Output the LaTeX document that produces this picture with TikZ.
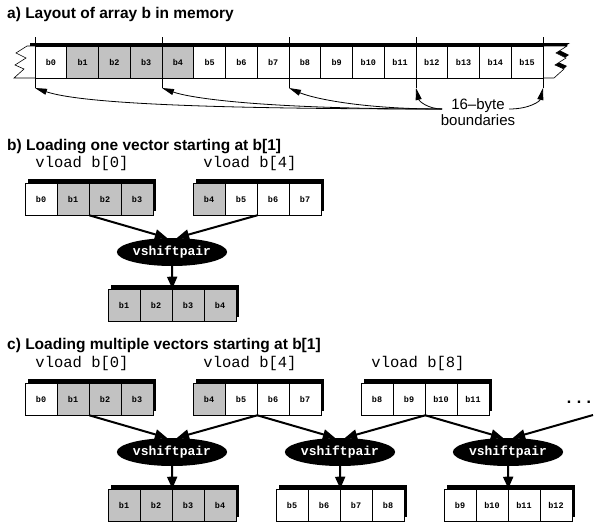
\documentclass[tikz,border=0pt]{standalone}
\usepackage{fontspec}
\newfontfamily\hv{Liberation Sans}
\newfontfamily\cour{Liberation Mono}
\usetikzlibrary{arrows.meta,shapes.geometric,backgrounds}
\definecolor{cellgray}{gray}{0.76}
\tikzset{
  cell/.style={draw, line width=.6pt, minimum width=31.75pt, minimum height=32pt, inner sep=0pt,
    font=\cour\bfseries\fontsize{8.5}{10}\selectfont},
  vcell/.style={cell, minimum width=32pt},
  title/.style={anchor=base west, inner sep=0pt, font=\hv\bfseries\fontsize{15.5}{18}\selectfont},
  vload/.style={anchor=base, inner sep=0pt, font=\cour\fontsize{15.5}{18}\selectfont},
  vsp/.style={ellipse, fill=black, text=white, minimum width=107pt, minimum height=28pt, inner sep=0pt,
    font=\cour\bfseries\fontsize{13}{15}\selectfont},
  feed/.style={line width=2pt, -{Triangle[length=12pt,width=10pt]}},
  bnd/.style={line width=.8pt, -{Triangle[length=12pt,width=6pt]}}
}
\begin{document}
\begin{tikzpicture}[x=1pt,y=-1pt]
    \useasboundingbox (0,0) rectangle (596,523);
    % a) memory layout
    \node[title] (ta) at (7,18) {a) Layout of array b in memory};
    \fill (30,43) -- (570,43) -- (559,50) -- (569,55) -- (558,62) -- (567,66) -- (557,75) -- (30,75) -- cycle;
    \draw[fill=white, line width=.6pt] (27,46) -- (567,46) -- (556,53) -- (566,58) -- (555,65) -- (564,69)
        -- (554,78) -- (14,78) -- (24,69) -- (15,65) -- (26,58) -- (16,53) -- cycle;
    \foreach \i in {0,...,15} {
        \ifnum\i>0 \ifnum\i<5 \def\fl{cellgray}\else\def\fl{white}\fi\else\def\fl{white}\fi
        \node[cell,fill=\fl] (a\i) at ({50.875+31.75*\i},62) {b\i};
    }
    \fill (30,43) rectangle (567,46);
    \foreach \k in {0,...,4} {
        \coordinate (bt\k) at ({35+127*\k},37);
        \coordinate (bd\k) at ({35+127*\k},88);
        \draw[line width=.8pt] (bt\k) -- (bd\k);
    }
    \node[align=center, inner sep=0pt, font=\hv\fontsize{15}{16}\selectfont] (lbl) at (478,112) {16–byte\\boundaries};
    \coordinate (lblL) at (442,109);
    \coordinate (lblR) at (509,109);
    \draw[bnd] (lblL) .. controls (200,109) and (80,103) .. (bd0);
    \draw[bnd] (lblL) .. controls (260,109) and (190,98) .. (bd1);
    \draw[bnd] (lblL) .. controls (360,109) and (312,98) .. (bd2);
    \draw[bnd] (lblL) .. controls (428,109) and (419,101) .. (bd3);
    \draw[bnd] (lblR) .. controls (530,109) and (540,101) .. (bd4);
    % b) and c) vectors
    \node[title] (tb) at (7,150) {b) Loading one vector starting at b[1]};
    \node[title] (tc) at (7,349) {c) Loading multiple vectors starting at b[1]};
    \foreach \nm/\xl/\yc/\cells in {
        sb1/25/199/{b0/white,b1/cellgray,b2/cellgray,b3/cellgray},
        sb2/193/199/{b4/cellgray,b5/white,b6/white,b7/white},
        rb/108/305/{b1/cellgray,b2/cellgray,b3/cellgray,b4/cellgray},
        sc1/25/399/{b0/white,b1/cellgray,b2/cellgray,b3/cellgray},
        sc2/193/399/{b4/cellgray,b5/white,b6/white,b7/white},
        sc3/361/399/{b8/white,b9/white,b10/white,b11/white},
        rc1/108/505/{b1/cellgray,b2/cellgray,b3/cellgray,b4/cellgray},
        rc2/276/505/{b5/white,b6/white,b7/white,b8/white},
        rc3/444/505/{b9/white,b10/white,b11/white,b12/white}}
        \foreach \lab/\fl [count=\i] in \cells
            \node[vcell,fill=\fl] (\nm-\i) at ({\xl+32*\i-16},\yc) {\lab};
    \begin{scope}[on background layer]
        \foreach \nm in {sb1,sb2,rb,sc1,sc2,sc3,rc1,rc2,rc3}
            \fill ([shift={(3,-4)}]\nm-1.north west) rectangle ([shift={(3,-4)}]\nm-4.south east);
    \end{scope}
    \node[vload] (lb1) at (82,167) {vload b[0]};
    \node[vload] (lb2) at (250,167) {vload b[4]};
    \node[vload] (lc1) at (82,367) {vload b[0]};
    \node[vload] (lc2) at (250,367) {vload b[4]};
    \node[vload] (lc3) at (418,367) {vload b[8]};
    \node[anchor=base east, inner sep=0pt, font=\cour\bfseries\fontsize{16.5}{18}\selectfont] (dots) at (594,403) {...};
    \coordinate (s4) at (593,415);
    \node[vsp] (e1) at (172,252) {vshiftpair};
    \node[vsp] (f1) at (172,452) {vshiftpair};
    \node[vsp] (f2) at (340,452) {vshiftpair};
    \node[vsp] (f3) at (508,452) {vshiftpair};
    \draw[feed] (sb1-2.south east) -- ([xshift=-5pt]e1.north);
    \draw[feed] (sb2-2.south east) -- ([xshift=5pt]e1.north);
    \draw[feed] (e1.south) -- (rb-2.north east);
    \draw[feed] (sc1-2.south east) -- ([xshift=-5pt]f1.north);
    \draw[feed] (sc2-2.south east) -- ([xshift=5pt]f1.north);
    \draw[feed] (sc2-2.south east) -- ([xshift=-5pt]f2.north);
    \draw[feed] (sc3-2.south east) -- ([xshift=5pt]f2.north);
    \draw[feed] (sc3-2.south east) -- ([xshift=-5pt]f3.north);
    \draw[feed] (s4) -- ([xshift=5pt]f3.north);
    \draw[feed] (f1.south) -- (rc1-2.north east);
    \draw[feed] (f2.south) -- (rc2-2.north east);
    \draw[feed] (f3.south) -- (rc3-2.north east);
\end{tikzpicture}
\end{document}
